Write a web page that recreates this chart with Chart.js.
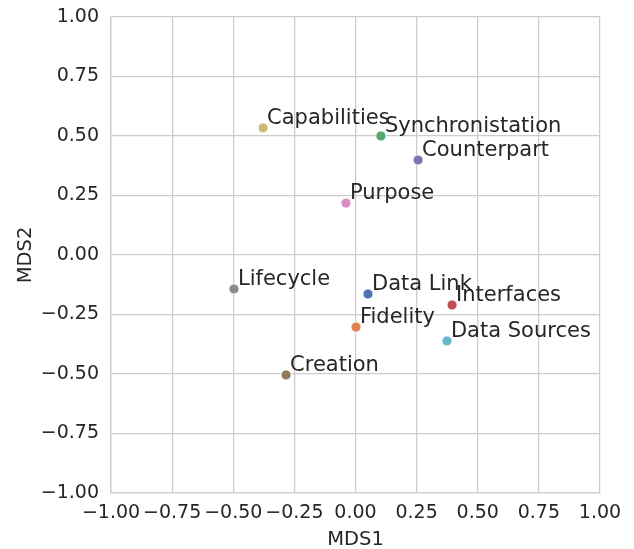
<!DOCTYPE html>
<html>
<head>
<meta charset="utf-8">
<script src="https://cdn.jsdelivr.net/npm/chart.js@4"></script>
<style>
  html, body { margin: 0; padding: 0; background: #fff; }
  #wrap { width: 634px; height: 549px; }
</style>
</head>
<body>
<div id="wrap"><canvas id="chart"></canvas></div>
<script>
// MDS coordinates
var labels = ["Data Link", "Fidelity", "Synchronistation", "Interfaces", "Counterpart",
              "Creation", "Purpose", "Lifecycle", "Capabilities", "Data Sources"];
var mds1 = [0.051, 0.002, 0.104, 0.395, 0.256, -0.284, -0.039, -0.497, -0.378, 0.374];
var mds2 = [-0.164, -0.303, 0.500, -0.210, 0.399, -0.504, 0.218, -0.143, 0.534, -0.361];
var colors = ["#4C72B0", "#DD8452", "#55A868", "#C44E52", "#8172B3",
              "#937860", "#DA8BC3", "#8C8C8C", "#CCB974", "#64B5CD"];

var points = labels.map(function (l, i) { return { x: mds1[i], y: mds2[i] }; });

function fmt(v) {
  var s = Math.abs(v).toFixed(2);
  return v < -1e-9 ? '\u2212' + s : s;
}

var textLabels = {
  id: 'textLabels',
  afterDatasetsDraw: function (chart) {
    var c = chart.ctx;
    var meta = chart.getDatasetMeta(0);
    c.save();
    c.font = '21px "DejaVu Sans"';
    c.fillStyle = '#262626';
    c.textAlign = 'left';
    c.textBaseline = 'alphabetic';
    meta.data.forEach(function (el, i) {
      c.fillText(labels[i], el.x + 4, el.y - 4);
    });
    c.restore();
  }
};

var ctx = document.getElementById('chart').getContext('2d');
var chart = new Chart(ctx, {
  type: 'scatter',
  data: {
    datasets: [{
      data: points,
      backgroundColor: colors,
      borderColor: '#ffffff',
      borderWidth: 0.8,
      pointRadius: 5,
      pointHoverRadius: 5
    }]
  },
  options: {
    responsive: true,
    maintainAspectRatio: false,
    animation: false,
    layout: { padding: { top: 17, right: 34, left: 0, bottom: 0 } },
    plugins: { legend: { display: false }, tooltip: { enabled: false } },
    scales: {
      x: {
        min: -1, max: 1,
        afterFit: function (s) { s.height = 56; s.paddingLeft = 0; s.paddingRight = 0; },
        ticks: { stepSize: 0.25, color: '#262626', padding: 9, maxRotation: 0, autoSkip: false,
                 font: { family: 'DejaVu Sans', size: 19 }, callback: function (v) { return fmt(v); } },
        grid: { color: '#cccccc', lineWidth: 1.25, drawTicks: false },
        border: { color: '#cccccc', width: 1.25 },
        title: { display: true, text: 'MDS1', color: '#262626', padding: { top: 0, bottom: -3 },
                 font: { family: 'DejaVu Sans', size: 19.5 } }
      },
      y: {
        min: -1, max: 1,
        afterFit: function (s) { s.width = 111; s.paddingTop = 0; s.paddingBottom = 0; },
        ticks: { stepSize: 0.25, color: '#262626', padding: 12, autoSkip: false,
                 font: { family: 'DejaVu Sans', size: 19 }, callback: function (v) { return fmt(v); } },
        grid: { color: '#cccccc', lineWidth: 1.25, drawTicks: false },
        border: { color: '#cccccc', width: 1.25 },
        title: { display: true, text: 'MDS2', color: '#262626', padding: { top: 14, bottom: 0 },
                 font: { family: 'DejaVu Sans', size: 19.5 } }
      }
    }
  },
  plugins: [textLabels]
});
</script>
</body>
</html>
